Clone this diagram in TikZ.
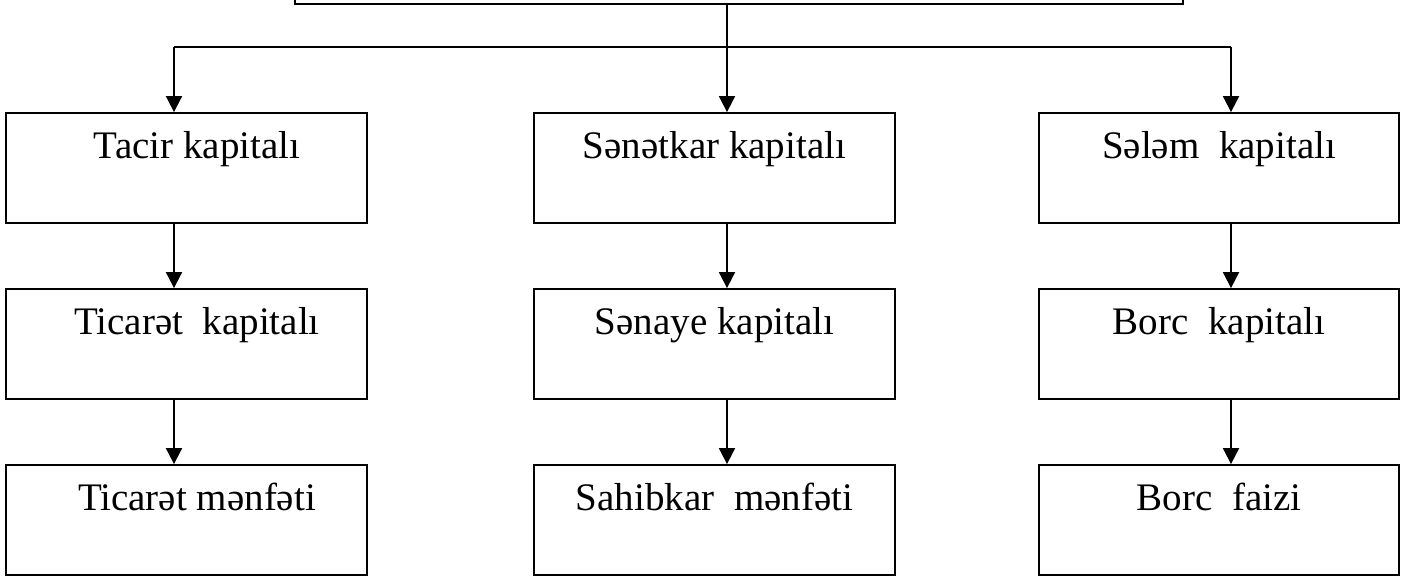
\documentclass[tikz,border=0pt]{standalone}
\usepackage{fontspec}
\setmainfont{Liberation Serif}
\usetikzlibrary{arrows.meta}
\tikzset{
  box/.style={draw, line width=1.8pt, rectangle, inner sep=0pt, minimum height=110pt},
  lbl/.style={anchor=base, inner sep=0pt, font=\fontsize{39}{47}\selectfont},
  conn/.style={line width=1.8pt},
  arr/.style={line width=1.8pt, -{Triangle[width=16pt,length=16pt]}}
}
\begin{document}
\begin{tikzpicture}[x=1pt,y=-1pt]
\useasboundingbox (0,0) rectangle (1410,579);
\clip (0,0) rectangle (1410,579);
\fill[white] (0,0) rectangle (1410,579);
% top box (cut off at the top)
\node[box, minimum width=888pt, minimum height=60pt] (top) at (739,-26) {};
% column boxes
\node[box, minimum width=361pt] (a1) at (186.5,168) {};
\node[box, minimum width=361pt] (a2) at (186.5,344) {};
\node[box, minimum width=361pt] (a3) at (186.5,520) {};
\node[box, minimum width=361pt] (b1) at (714.5,168) {};
\node[box, minimum width=361pt] (b2) at (714.5,344) {};
\node[box, minimum width=361pt] (b3) at (714.5,520) {};
\node[box, minimum width=360pt] (c1) at (1219,168) {};
\node[box, minimum width=360pt] (c2) at (1219,344) {};
\node[box, minimum width=360pt] (c3) at (1219,520) {};
% labels
\node[lbl] (ta1) at (197,158) {Tacir kapitalı};
\node[lbl] (ta2) at (197,334) {Ticarət\ \ kapitalı};
\node[lbl] (ta3) at (197,510) {Ticarət mənfəti};
\node[lbl] (tb1) at (714.5,158) {Sənətkar kapitalı};
\node[lbl] (tb2) at (714.5,334) {Sənaye kapitalı};
\node[lbl] (tb3) at (714.5,510) {Sahibkar\ \ mənfəti};
\node[lbl] (tc1) at (1219,158) {Sələm\ \ kapitalı};
\node[lbl] (tc2) at (1219,334) {Borc\ \ kapitalı};
\node[lbl] (tc3) at (1219,510) {Borc\ \ faizi};
% bus
\coordinate (busL) at (174,47);
\coordinate (busM) at (727,47);
\coordinate (busR) at (1231,47);
\draw[conn] (busL) -- (busR);
\draw[arr] (top.south -| busM) -- (b1.north -| busM);
\draw[arr] (busL) -- (busL |- a1.north);
\draw[arr] (busR) -- (busR |- c1.north);
% column arrows
\draw[arr] (a1.south -| busL) -- (a2.north -| busL);
\draw[arr] (a2.south -| busL) -- (a3.north -| busL);
\draw[arr] (b1.south -| busM) -- (b2.north -| busM);
\draw[arr] (b2.south -| busM) -- (b3.north -| busM);
\draw[arr] (c1.south -| busR) -- (c2.north -| busR);
\draw[arr] (c2.south -| busR) -- (c3.north -| busR);
\end{tikzpicture}
\end{document}
